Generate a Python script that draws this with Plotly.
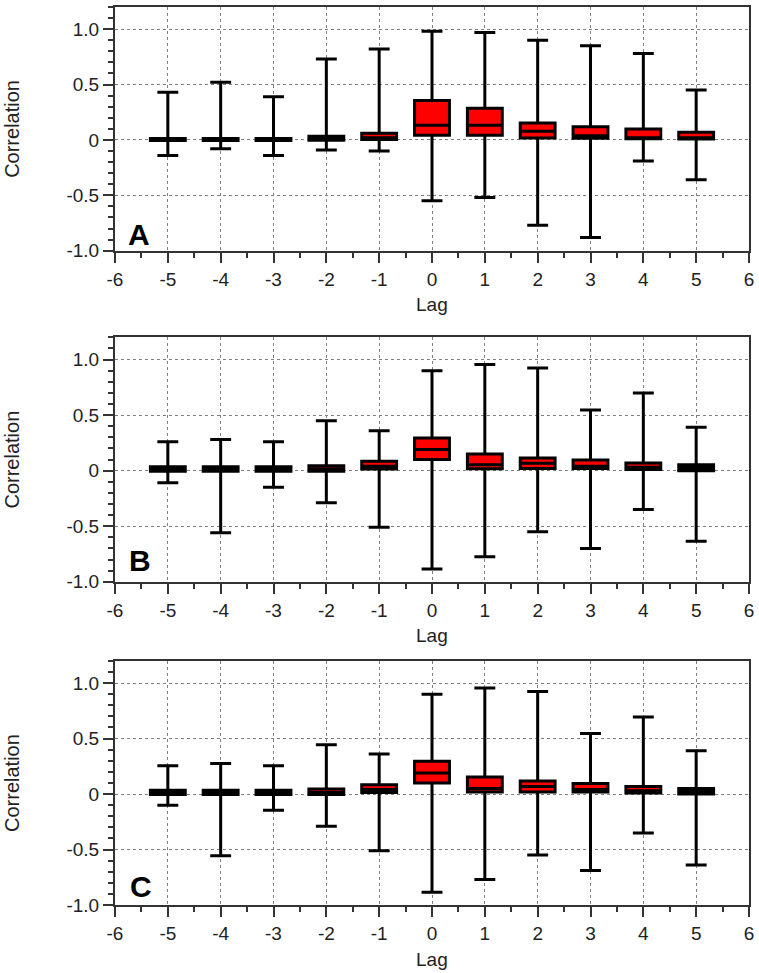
import plotly.graph_objects as go

# ---------------- data ----------------
lags = [-5, -4, -3, -2, -1, 0, 1, 2, 3, 4, 5]

a_upper = [0.43, 0.52, 0.39, 0.73, 0.82, 0.98, 0.97, 0.90, 0.85, 0.78, 0.45]
a_lower = [-0.14, -0.08, -0.14, -0.09, -0.10, -0.55, -0.52, -0.77, -0.88, -0.19, -0.36]
a_q3 = [0.012, 0.012, 0.012, 0.033, 0.06, 0.355, 0.287, 0.153, 0.12, 0.099, 0.069]
a_median = [0.003, 0.003, 0.003, 0.01, 0.02, 0.132, 0.132, 0.078, 0.037, 0.02, 0.02]
a_q1 = [-0.005, -0.005, -0.005, -0.003, 0.005, 0.042, 0.042, 0.018, 0.015, 0.01, 0.008]

b_upper = [0.26, 0.28, 0.26, 0.45, 0.36, 0.90, 0.955, 0.925, 0.545, 0.70, 0.39]
b_lower = [-0.11, -0.56, -0.15, -0.29, -0.51, -0.885, -0.775, -0.55, -0.70, -0.35, -0.635]
b_q3 = [0.035, 0.035, 0.035, 0.045, 0.084, 0.293, 0.15, 0.114, 0.096, 0.069, 0.054]
b_median = [0.01, 0.01, 0.01, 0.015, 0.04, 0.19, 0.054, 0.066, 0.039, 0.03, 0.025]
b_q1 = [-0.005, -0.005, -0.005, -0.005, 0.015, 0.10, 0.018, 0.02, 0.02, 0.01, 0.0]

c_upper = [0.255, 0.275, 0.255, 0.445, 0.36, 0.90, 0.955, 0.925, 0.545, 0.695, 0.39]
c_lower = [-0.10, -0.555, -0.145, -0.29, -0.51, -0.885, -0.77, -0.55, -0.69, -0.35, -0.64]
c_q3 = [0.035, 0.035, 0.035, 0.045, 0.084, 0.295, 0.153, 0.117, 0.096, 0.069, 0.051]
c_median = [0.01, 0.01, 0.01, 0.015, 0.04, 0.19, 0.05, 0.069, 0.04, 0.03, 0.025]
c_q1 = [-0.005, -0.005, -0.005, -0.005, 0.015, 0.10, 0.018, 0.018, 0.018, 0.01, 0.0]

panel_letters = ["A", "B", "C"]

x_tick_vals = [-6, -5, -4, -3, -2, -1, 0, 1, 2, 3, 4, 5, 6]
x_tick_text = ["-6", "-5", "-4", "-3", "-2", "-1", "0", "1", "2", "3", "4", "5", "6"]
y_tick_vals = [-1.0, -0.5, 0, 0.5, 1.0]
y_tick_text = ["-1.0", "-0.5", "0", "0.5", "1.0"]

x_title = "Lag"
y_title = "Correlation"

# ---------------- styling ----------------
FONT = "Liberation Sans, Arial, Helvetica, sans-serif"
AXC = "#333333"
GRIDC = "#808080"
TXT = "#222222"

panels = [
    (a_q1, a_median, a_q3, a_lower, a_upper),
    (b_q1, b_median, b_q3, b_lower, b_upper),
    (c_q1, c_median, c_q3, c_lower, c_upper),
]
domains = [[0.7286, 1.0], [0.36, 0.6321], [0.0, 0.2718]]
letter_pos = [(-5.55, -0.855), (-5.53, -0.81), (-5.51, -0.835)]

fig = go.Figure()
annotations = []
layout_axes = {}

for i, (q1, med, q3, lo, up) in enumerate(panels):
    sx = "" if i == 0 else str(i + 1)
    fig.add_trace(go.Box(
        x=lags, q1=q1, median=med, q3=q3, lowerfence=lo, upperfence=up,
        orientation="v",
        fillcolor="#ff0000",
        line=dict(color="black", width=3),
        width=0.66, whiskerwidth=0.6,
        boxpoints=False, hoverinfo="skip", showlegend=False,
        xaxis="x" + sx, yaxis="y" + sx,
    ))
    layout_axes["xaxis" + sx] = dict(
        domain=[0, 1], anchor="y" + sx, range=[-6, 6],
        tickmode="array", tickvals=x_tick_vals, ticktext=x_tick_text,
        ticks="outside", ticklen=10, tickwidth=2, tickcolor=AXC,
        showline=True, linewidth=2, linecolor=AXC, mirror=True,
        showgrid=True, gridcolor=GRIDC, griddash="dot", gridwidth=1,
        zeroline=False, ticklabeloverflow="allow",
        minor=dict(tickmode="linear", tick0=0, dtick=0.5, ticks="outside",
                   ticklen=5, tickwidth=2, tickcolor=AXC, showgrid=False),
        tickfont=dict(family=FONT, size=19, color=TXT),
        fixedrange=True,
    )
    layout_axes["yaxis" + sx] = dict(
        domain=domains[i], anchor="x" + sx, range=[-1.0, 1.2],
        tickmode="array", tickvals=y_tick_vals, ticktext=y_tick_text,
        ticks="outside", ticklen=10, tickwidth=2, tickcolor=AXC,
        showline=True, linewidth=2, linecolor=AXC, mirror=True,
        showgrid=True, gridcolor=GRIDC, griddash="dot", gridwidth=1,
        zeroline=False,
        minor=dict(tickmode="linear", tick0=0, dtick=0.1, ticks="outside",
                   ticklen=5, tickwidth=2, tickcolor=AXC, showgrid=False),
        tickfont=dict(family=FONT, size=19, color=TXT),
        fixedrange=True,
    )
    annotations.append(dict(
        text=y_title, textangle=-90, showarrow=False,
        xref="paper", x=0, xanchor="center", xshift=-103,
        yref="y" + sx + " domain", y=0.5, yanchor="middle",
        font=dict(family=FONT, size=20, color=TXT),
    ))
    annotations.append(dict(
        text=x_title, showarrow=False,
        xref="x" + sx + " domain", x=0.5, xanchor="center",
        yref="y" + sx + " domain", y=0, yanchor="middle", yshift=-54,
        font=dict(family=FONT, size=19, color=TXT),
    ))
    lx, ly = letter_pos[i]
    annotations.append(dict(
        text="<b>" + panel_letters[i] + "</b>", showarrow=False,
        xref="x" + sx, x=lx, xanchor="center",
        yref="y" + sx, y=ly, yanchor="middle",
        font=dict(family=FONT, size=30, color="black"),
    ))

fig.update_layout(
    width=759, height=973,
    margin=dict(l=115, r=8, t=5, b=68),
    paper_bgcolor="white", plot_bgcolor="white",
    annotations=annotations,
    **layout_axes,
)

fig.write_html("out.html", config={"displayModeBar": False},
               post_script="document.body.style.margin='0';")
